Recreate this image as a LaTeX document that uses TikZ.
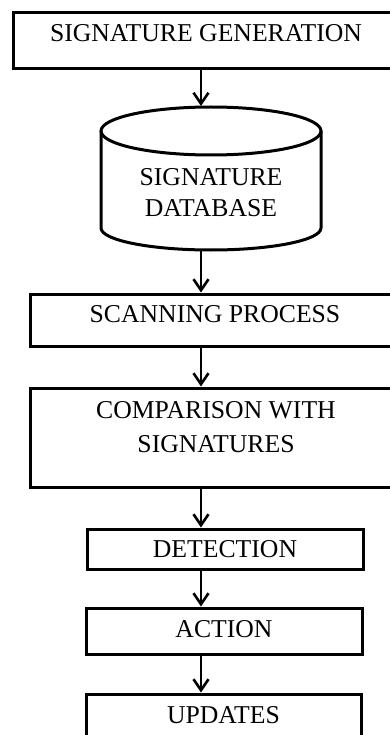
\documentclass[tikz,border=0pt]{standalone}
\usepackage{fontspec}
\setmainfont{Liberation Serif}
\usetikzlibrary{arrows.meta, positioning}

\begin{document}
\begin{tikzpicture}[x=1pt, y=-1pt]
		\tikzstyle{Box} = [rectangle, draw=black, line width=3pt, inner ysep=0pt, text centered, anchor=base, font=\fontsize{25.7}{34.4}\selectfont]
		\tikzstyle{arrow} = [line width=2.6pt,->,>={Straight Barb[length=11pt,width=15pt]}]
		
		\useasboundingbox (0,0) rectangle (390,735);
		\clip (0,0) rectangle (390,735);
		\coordinate (spine) at (201,0);
		
		\node (gen) [Box, minimum width=386pt, text height=28.5pt, text depth=27.5pt] at (206,41.5) {SIGNATURE GENERATION};
		
		\draw [line width=3pt] (211,131) ellipse [x radius=110pt, y radius=24pt];
		\draw [line width=3pt] (101,131) -- (101,228) arc [start angle=180, end angle=360, x radius=110pt, y radius=22pt] -- (321,131);
		\node (db) [align=center, anchor=base, font=\fontsize{25.7}{32}\selectfont] at (211,217) {SIGNATURE\\DATABASE};
		\coordinate (dbtop) at (211,106);
		\coordinate (dbbot) at (211,251);
		
		\node (scan) [Box, minimum width=370pt, text height=28.5pt, text depth=23.5pt] at (215,322.5) {SCANNING PROCESS};
		\node (cmp) [Box, align=center, minimum width=372pt, text height=64.7pt, text depth=34.3pt] at (216,452.7) {COMPARISON WITH\\SIGNATURES};
		\node (det) [Box, minimum width=276pt, text height=28pt, text depth=12pt] at (225,557) {DETECTION};
		\node (act) [Box, minimum width=276pt, text height=29pt, text depth=17pt] at (224,637) {ACTION};
		\node (upd) [Box, minimum width=275pt, text height=29pt, text depth=30pt] at (223.5,723) {UPDATES};
		
		\draw [arrow] (gen.south -| spine) -- (dbtop -| spine);
		\draw [arrow] (dbbot -| spine) -- (scan.north -| spine);
		\draw [arrow] (scan.south -| spine) -- (cmp.north -| spine);
		\draw [arrow] (cmp.south -| spine) -- (det.north -| spine);
		\draw [arrow] (det.south -| spine) -- (act.north -| spine);
		\draw [arrow] (act.south -| spine) -- (upd.north -| spine);
\end{tikzpicture}
\end{document}
